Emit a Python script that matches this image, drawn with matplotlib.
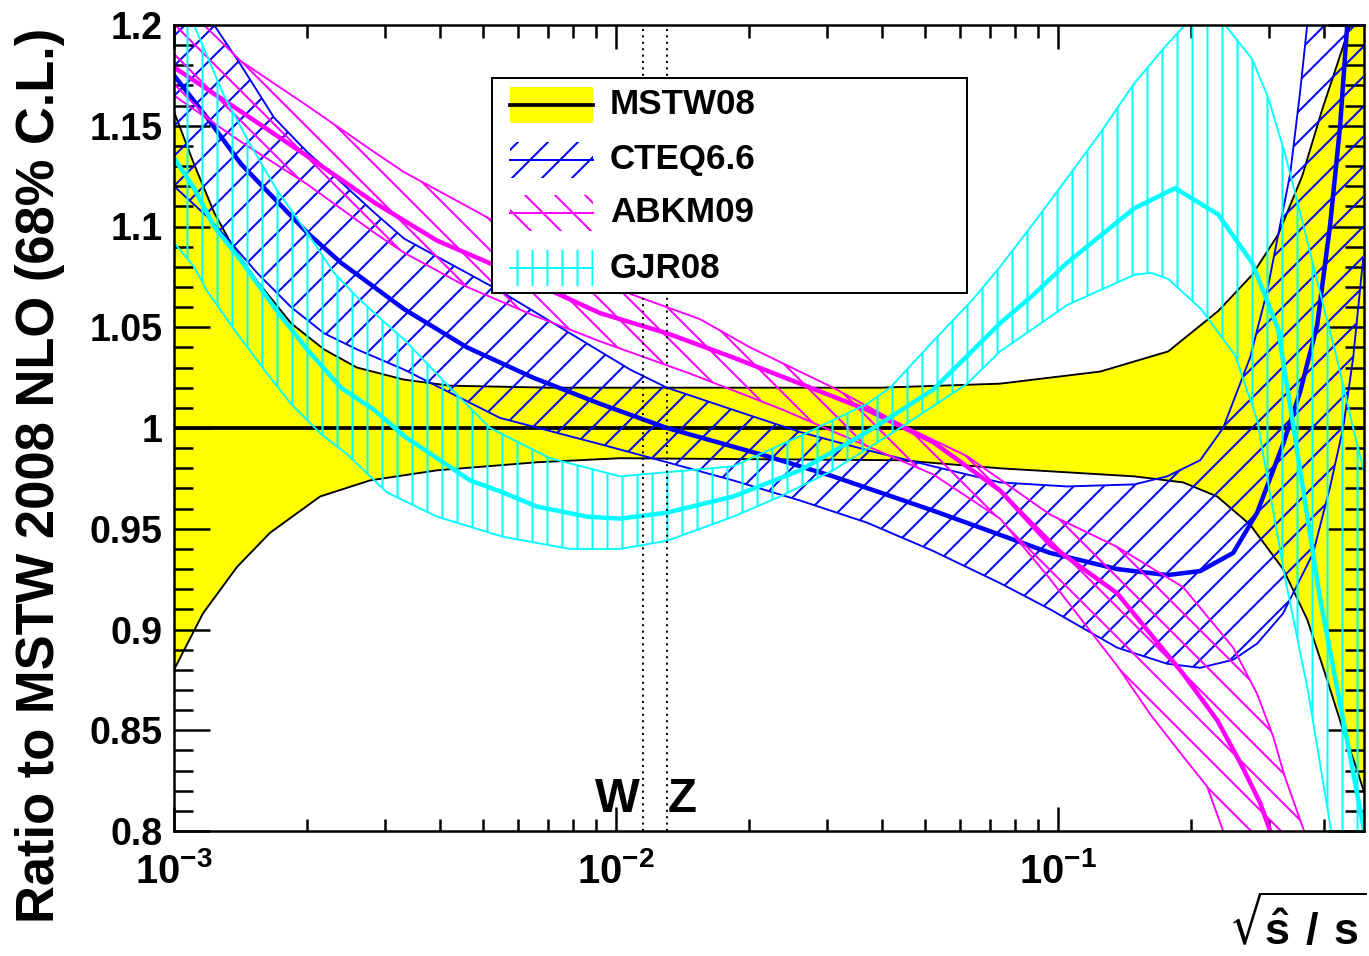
import numpy as np
import matplotlib
matplotlib.use('Agg')
import matplotlib.pyplot as plt
from matplotlib.patches import Rectangle
from matplotlib.lines import Line2D
from matplotlib.ticker import (LogLocator, LogFormatterMathtext, MultipleLocator,
                               FuncFormatter, NullFormatter)

plt.rcParams['font.family'] = ['Liberation Sans', 'DejaVu Sans']
plt.rcParams['font.weight'] = 'bold'
plt.rcParams['mathtext.default'] = 'regular'
plt.rcParams['hatch.linewidth'] = 1.6

# ---------------- data ----------------
mstw_central = 1.0
mstw_up_x = [1.0e-3, 1.11e-3, 1.232e-3, 1.367e-3, 1.541e-3, 1.84e-3, 2.185e-3, 2.594e-3, 3.314e-3,
             4.21e-3, 7.09e-3, 1.549e-2, 3.957e-2, 7.39e-2, 0.1245, 0.1774, 0.2301, 0.2748, 0.3146,
             0.3565, 0.3957, 0.4484, 0.4627, 0.49]
mstw_up_y = [1.157, 1.131, 1.107, 1.089, 1.073, 1.052, 1.039, 1.030, 1.024,
             1.021, 1.020, 1.020, 1.020, 1.022, 1.028, 1.038, 1.058, 1.076, 1.096,
             1.125, 1.158, 1.194, 1.203, 1.25]
mstw_lo_x = [1.0e-3, 1.163e-3, 1.388e-3, 1.649e-3, 2.14e-3, 2.776e-3, 3.936e-3, 6.626e-3, 1.021e-2,
             4.391e-2, 7.39e-2, 0.1486, 0.1918, 0.229, 0.2719, 0.3228, 0.366, 0.406, 0.4414, 0.475, 0.4975]
mstw_lo_y = [0.880, 0.908, 0.931, 0.948, 0.966, 0.974, 0.979, 0.983, 0.985,
             0.984, 0.980, 0.976, 0.973, 0.966, 0.952, 0.930, 0.905, 0.875, 0.850, 0.830, 0.816]

cteq_up_x = [1.0e-3, 1.232e-3, 1.418e-3, 1.684e-3, 2.0e-3, 2.387e-3, 2.835e-3, 3.314e-3, 5.465e-3,
             1.076e-2, 1.304e-2, 1.84e-2, 2.609e-2, 3.698e-2, 5.213e-2, 7.392e-2, 0.1048, 0.1486,
             0.1765, 0.2096, 0.2362, 0.2719, 0.2971, 0.318, 0.3349, 0.3528, 0.366, 0.3815, 0.49]
cteq_up_y = [1.235, 1.200, 1.180, 1.154, 1.137, 1.122, 1.107, 1.094, 1.068,
             1.029, 1.020, 1.009, 0.998, 0.989, 0.981, 0.973, 0.971, 0.972,
             0.976, 0.984, 1.000, 1.035, 1.068, 1.101, 1.126, 1.167, 1.200, 1.240, 2.0]
cteq_c_x = [1.0e-3, 1.188e-3, 1.418e-3, 1.684e-3, 2.0e-3, 2.387e-3, 2.835e-3, 3.314e-3, 4.602e-3,
            6.489e-3, 9.2e-3, 1.304e-2, 2.196e-2, 3.097e-2, 5.213e-2, 9.592e-2, 0.136, 0.1765,
            0.2096, 0.2489, 0.282, 0.3065, 0.3228, 0.3528, 0.3855, 0.4125, 0.4345, 0.4508, 0.4627]
cteq_c_y = [1.175, 1.154, 1.131, 1.114, 1.097, 1.082, 1.070, 1.059, 1.040,
            1.025, 1.012, 1.000, 0.986, 0.976, 0.959, 0.938, 0.930, 0.927,
            0.929, 0.938, 0.958, 0.979, 0.992, 1.018, 1.051, 1.101, 1.150, 1.200, 1.240]
cteq_lo_x = [1.0e-3, 1.188e-3, 1.297e-3, 1.541e-3, 1.84e-3, 2.185e-3, 2.594e-3, 3.314e-3, 3.998e-3,
             5.465e-3, 9.2e-3, 1.304e-2, 1.84e-2, 2.609e-2, 3.698e-2, 5.213e-2, 7.392e-2, 9.592e-2,
             0.136, 0.1765, 0.2096, 0.2489, 0.282, 0.3228, 0.3776, 0.4125, 0.4414, 0.4651, 0.4898]
cteq_lo_y = [1.120, 1.105, 1.096, 1.077, 1.060, 1.047, 1.039, 1.029, 1.020,
             1.005, 0.992, 0.983, 0.974, 0.964, 0.953, 0.939, 0.923, 0.910,
             0.891, 0.883, 0.881, 0.885, 0.893, 0.908, 0.938, 0.971, 1.000, 1.035, 1.084]

abkm_up_x = [1.0e-3, 1.169e-3, 1.418e-3, 2.0e-3, 2.835e-3, 3.314e-3, 4.602e-3, 6.489e-3, 9.2e-3,
             1.549e-2, 2.01e-2, 3.097e-2, 4.391e-2, 6.225e-2, 9.592e-2, 0.136, 0.1918, 0.2489,
             0.282, 0.3065, 0.3245, 0.3641]
abkm_up_y = [1.215, 1.200, 1.182, 1.160, 1.137, 1.127, 1.110, 1.092, 1.072,
             1.054, 1.040, 1.020, 1.002, 0.986, 0.957, 0.941, 0.921, 0.891,
             0.868, 0.847, 0.828, 0.797]
abkm_c_x = [1.0e-3, 1.418e-3, 2.0e-3, 2.835e-3, 3.936e-3, 5.55e-3, 9.2e-3, 1.304e-2, 1.84e-2,
            2.609e-2, 3.698e-2, 5.213e-2, 7.392e-2, 9.592e-2, 0.136, 0.1918, 0.229, 0.2581,
            0.2864, 0.3017, 0.318]
abkm_c_y = [1.179, 1.157, 1.135, 1.112, 1.093, 1.079, 1.057, 1.047, 1.035,
            1.022, 1.009, 0.993, 0.969, 0.942, 0.918, 0.878, 0.855, 0.834,
            0.814, 0.800, 0.785]
abkm_lo_x = [1.0e-3, 1.418e-3, 2.0e-3, 2.835e-3, 3.314e-3, 4.602e-3, 6.489e-3, 9.2e-3, 1.47e-2,
             2.387e-2, 3.698e-2, 5.213e-2, 7.392e-2, 9.592e-2, 0.136, 0.1615, 0.1918, 0.2174,
             0.2362, 0.2581]
abkm_lo_y = [1.165, 1.142, 1.121, 1.097, 1.087, 1.070, 1.056, 1.043, 1.027,
             1.009, 0.991, 0.977, 0.955, 0.925, 0.882, 0.858, 0.837, 0.822,
             0.800, 0.780]

gjr_up_x = [1.0e-3, 1.11e-3, 1.297e-3, 1.494e-3, 1.71e-3, 2.0e-3, 2.301e-3, 2.594e-3, 2.94e-3,
            3.314e-3, 4.211e-3, 5.187e-3, 7.09e-3, 1.021e-2, 1.84e-2, 2.609e-2, 3.698e-2, 4.169e-2,
            5.213e-2, 6.423e-2, 7.392e-2, 8.826e-2, 0.1048, 0.1251, 0.1486, 0.1774, 0.1938, 0.2151,
            0.2387, 0.2748, 0.2986, 0.3262, 0.3565, 0.3896, 0.4256, 0.4627, 0.4975]
gjr_up_y = [1.235, 1.200, 1.165, 1.140, 1.118, 1.097, 1.077, 1.065, 1.054,
            1.044, 1.020, 1.000, 0.985, 0.976, 0.981, 0.996, 1.012, 1.020,
            1.043, 1.064, 1.080, 1.102, 1.124, 1.147, 1.171, 1.191, 1.200, 1.212,
            1.200, 1.183, 1.164, 1.136, 1.103, 1.069, 1.036, 1.002, 0.974]
gjr_c_x = [1.0e-3, 1.11e-3, 1.232e-3, 1.418e-3, 1.684e-3, 2.0e-3, 2.387e-3, 2.835e-3, 3.314e-3,
           4.675e-3, 5.55e-3, 6.626e-3, 8.599e-3, 1.021e-2, 1.304e-2, 1.84e-2, 2.609e-2, 3.698e-2,
           5.213e-2, 7.392e-2, 8.78e-2, 0.1048, 0.1486, 0.184, 0.2301, 0.2748, 0.3146, 0.3437,
           0.3916, 0.446, 0.4924]
gjr_c_y = [1.134, 1.119, 1.100, 1.083, 1.060, 1.039, 1.020, 1.009, 0.996,
           0.974, 0.968, 0.961, 0.956, 0.955, 0.958, 0.966, 0.979, 0.998,
           1.019, 1.052, 1.066, 1.082, 1.109, 1.119, 1.106, 1.082, 1.049, 0.995,
           0.915, 0.850, 0.800]
gjr_lo_x = [1.0e-3, 1.11e-3, 1.188e-3, 1.367e-3, 1.598e-3, 1.84e-3, 2.151e-3, 2.463e-3, 3.033e-3,
            3.936e-3, 5.55e-3, 7.868e-3, 1.021e-2, 1.304e-2, 1.84e-2, 2.35e-2, 3.097e-2, 4.391e-2,
            6.225e-2, 7.392e-2, 0.1048, 0.1486, 0.1623, 0.1774, 0.2107, 0.2515, 0.282, 0.3245,
            0.3679, 0.4168, 0.49]
gjr_lo_y = [1.092, 1.080, 1.068, 1.049, 1.029, 1.012, 0.997, 0.987, 0.968,
            0.956, 0.946, 0.940, 0.940, 0.944, 0.956, 0.966, 0.979, 1.000,
            1.022, 1.038, 1.061, 1.076, 1.077, 1.074, 1.059, 1.036, 1.004, 0.928,
            0.869, 0.797, 0.600]

wz_x = [80.4 / 7000.0, 91.19 / 7000.0]
wz_labels = ['W', 'Z']
legend_labels = ['MSTW08', 'CTEQ6.6', 'ABKM09', 'GJR08']

# ---------------- figure ----------------
W, H, DPI = 1369, 956, 90
fig = plt.figure(figsize=(W / DPI, H / DPI), dpi=DPI)
AX_L, AX_R, AX_B, AX_T = 174, 1364, 831, 25
ax = fig.add_axes([AX_L / W, 1 - AX_B / H, (AX_R - AX_L) / W, (AX_B - AX_T) / H])
ax.set_xscale('log')
ax.set_xlim(1e-3, 0.492)
ax.set_ylim(0.8, 1.2)

YELLOW, BLUE, MAG, CYAN = '#ffff00', '#0000ff', '#ff00ff', '#00ffff'


def band(xu, yu, xl, yl):
    return (np.concatenate([xu, xl[::-1]]), np.concatenate([yu, yl[::-1]]))


# MSTW band
bx, by = band(np.array(mstw_up_x), np.array(mstw_up_y), np.array(mstw_lo_x), np.array(mstw_lo_y))
ax.fill(bx, by, facecolor=YELLOW, edgecolor='none', lw=0, zorder=1)
ax.plot(mstw_up_x, mstw_up_y, color='k', lw=1.5, zorder=2)
ax.plot(mstw_lo_x, mstw_lo_y, color='k', lw=1.5, zorder=2)
ax.axhline(mstw_central, color='k', lw=3.0, zorder=2)

sets = [
    (cteq_up_x, cteq_up_y, cteq_c_x, cteq_c_y, cteq_lo_x, cteq_lo_y, BLUE, '/'),
    (abkm_up_x, abkm_up_y, abkm_c_x, abkm_c_y, abkm_lo_x, abkm_lo_y, MAG, '\\'),
    (gjr_up_x, gjr_up_y, gjr_c_x, gjr_c_y, gjr_lo_x, gjr_lo_y, CYAN, '|'),
]
for i, (ux, uy, cx, cy, lx, ly, col, hat) in enumerate(sets):
    z = 3 + i
    px, py = band(np.array(ux), np.array(uy), np.array(lx), np.array(ly))
    ax.fill(px, py, facecolor='none', edgecolor=col, hatch=hat, lw=0, zorder=z)
    ax.plot(ux, uy, color=col, lw=1.5, zorder=z)
    ax.plot(lx, ly, color=col, lw=1.5, zorder=z)
    ax.plot(cx, cy, color=col, lw=3.6, zorder=z + 0.5)

# W / Z lines
for xv, lab in zip(wz_x, wz_labels):
    ax.axvline(xv, color='k', lw=1.6, ls=(0, (1, 2.2)), zorder=8)
ax.annotate(wz_labels[0], xy=(wz_x[0], 0.8094), xytext=(-2, 0), textcoords='offset points',
            ha='right', va='baseline', fontsize=38, fontweight='bold', zorder=9)
ax.annotate(wz_labels[1], xy=(wz_x[1], 0.8094), xytext=(1, 0), textcoords='offset points',
            ha='left', va='baseline', fontsize=38, fontweight='bold', zorder=9)

# ticks
ax.yaxis.set_major_locator(MultipleLocator(0.05))
ax.yaxis.set_minor_locator(MultipleLocator(0.01))
ax.yaxis.set_major_formatter(FuncFormatter(lambda v, p: f'{v:g}'))
ax.xaxis.set_major_locator(LogLocator(base=10, numticks=10))
ax.xaxis.set_minor_locator(LogLocator(base=10, subs=np.arange(2, 10), numticks=20))
ax.xaxis.set_major_formatter(LogFormatterMathtext())
ax.xaxis.set_minor_formatter(NullFormatter())
ax.tick_params(which='both', direction='in', top=True, right=True, width=2)
ax.tick_params(axis='y', which='major', length=29, pad=9, labelsize=30)
ax.tick_params(axis='y', which='minor', length=15)
ax.tick_params(axis='x', which='major', length=19, pad=17, labelsize=32)
ax.tick_params(axis='x', which='minor', length=10)
for s in ax.spines.values():
    s.set_linewidth(2)
    s.set_zorder(20)


# legend (drawn manually in axes fraction)
def fx(px):
    return (px - AX_L) / (AX_R - AX_L)


def fy(py):
    return (AX_B - py) / (AX_B - AX_T)


tr = ax.transAxes
ax.add_patch(Rectangle((fx(492), fy(293)), fx(967) - fx(492), fy(78) - fy(293), transform=tr,
                       facecolor='white', edgecolor='k', lw=1.6, zorder=30))
rows = [105, 160, 213, 268]
cols = [(YELLOW, 'k', None), (None, BLUE, '/'), (None, MAG, '\\'), (None, CYAN, '|')]
for lab, yc, (fc, lc, hat) in zip(legend_labels, rows, cols):
    r0, r1 = fy(yc + 18), fy(yc - 18)
    if fc is not None:
        ax.add_patch(Rectangle((fx(510), r0), fx(593) - fx(510), r1 - r0, transform=tr,
                               facecolor=fc, edgecolor='none', lw=0, zorder=31))
        lw = 3.0
    else:
        ax.add_patch(Rectangle((fx(510), r0), fx(593) - fx(510), r1 - r0, transform=tr,
                               facecolor='none', edgecolor=lc, hatch=hat, lw=0, zorder=31))
        lw = 1.6
    ax.add_line(Line2D([fx(510), fx(593)], [fy(yc), fy(yc)], transform=tr, color=lc, lw=lw, zorder=32))
    ax.text(fx(610), fy(yc), lab, transform=tr, ha='left', va='center', fontsize=28,
            fontweight='bold', zorder=33)

# axis titles
fig.text(40 / W, 1 - 28 / H, 'Ratio to MSTW 2008 NLO (68% C.L.)', rotation=90, ha='center', va='top',
         fontsize=42, fontweight='bold')
fig.text(1366 / W, 1 - 925 / H, r'$\sqrt{\hat{s}\ /\ s}$', ha='right', va='center',
         fontsize=36, fontweight='bold')

fig.savefig('out.png', dpi=DPI)
